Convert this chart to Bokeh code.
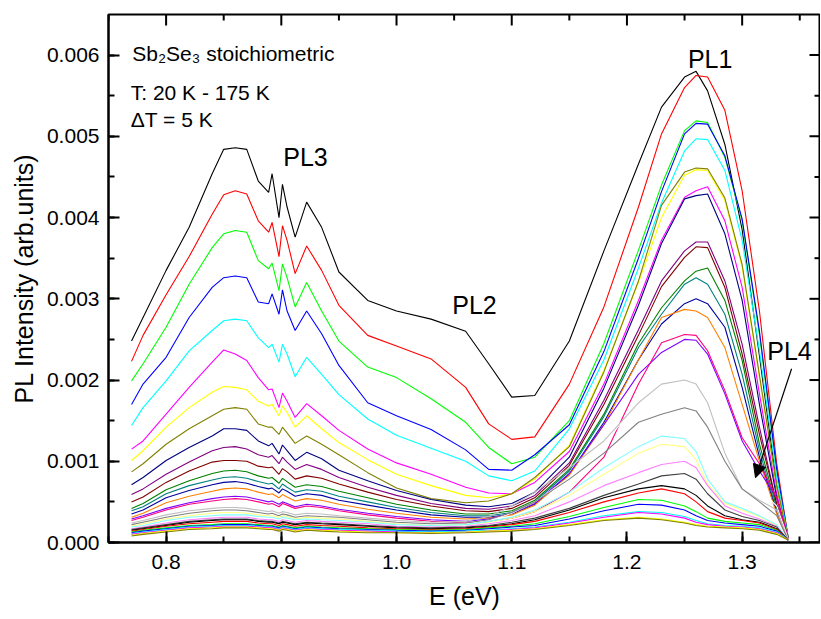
from bokeh.plotting import figure
from bokeh.models import (SingleIntervalTicker, PrintfTickFormatter,
                          Label, Arrow, NormalHead)
from bokeh.embed import file_html
from bokeh.resources import INLINE

# Photon energy grid (eV)
E = [0.770, 0.780, 0.800, 0.820, 0.840, 0.850, 0.860, 0.870, 0.880, 0.889,
     0.892, 0.898, 0.901, 0.905, 0.912, 0.922, 0.935, 0.950, 0.975, 1.000,
     1.030, 1.060, 1.080, 1.100, 1.120, 1.150, 1.180, 1.210, 1.230, 1.250,
     1.260, 1.270, 1.285, 1.300, 1.315, 1.330, 1.340]

# PL intensity (units of 1e-3 arb.units), one list per temperature
I_020K = [2.48, 2.77, 3.35, 3.88, 4.54, 4.84, 4.86, 4.84, 4.45, 4.31, 4.54, 4.00, 4.41, 4.13, 3.76, 4.19, 3.88, 3.33, 2.98, 2.85, 2.75, 2.60, 2.20, 1.79, 1.81, 2.48, 3.59, 4.66, 5.36, 5.73, 5.80, 5.56, 4.90, 3.85, 2.30, 0.70, 0.05]
I_025K = [2.23, 2.55, 3.05, 3.52, 4.04, 4.28, 4.33, 4.29, 3.96, 3.82, 3.94, 3.52, 3.90, 3.72, 3.31, 3.65, 3.35, 2.92, 2.55, 2.42, 2.26, 1.91, 1.46, 1.27, 1.30, 1.95, 2.90, 4.13, 5.03, 5.60, 5.75, 5.73, 5.32, 4.33, 2.85, 0.97, 0.05]
I_030K = [1.99, 2.20, 2.65, 3.18, 3.63, 3.80, 3.84, 3.82, 3.47, 3.37, 3.44, 3.10, 3.43, 3.26, 2.90, 3.20, 2.85, 2.48, 2.16, 2.03, 1.77, 1.48, 1.17, 0.97, 1.05, 1.50, 2.45, 3.60, 4.40, 5.07, 5.19, 5.17, 4.74, 3.96, 2.56, 0.88, 0.05]
I_035K = [1.70, 1.95, 2.28, 2.77, 3.14, 3.26, 3.28, 3.26, 2.96, 2.94, 3.06, 2.81, 3.11, 2.85, 2.61, 2.85, 2.57, 2.18, 1.72, 1.56, 1.39, 1.14, 0.90, 0.89, 1.08, 1.45, 2.35, 3.50, 4.32, 5.03, 5.16, 5.15, 4.76, 3.98, 2.60, 0.90, 0.05]
I_040K = [1.44, 1.66, 1.99, 2.36, 2.61, 2.73, 2.75, 2.73, 2.52, 2.40, 2.44, 2.22, 2.44, 2.32, 2.04, 2.28, 2.07, 1.82, 1.52, 1.32, 1.16, 1.00, 0.82, 0.76, 0.88, 1.40, 2.25, 3.38, 4.18, 4.82, 4.97, 4.96, 4.58, 3.72, 2.36, 0.80, 0.05]
I_045K = [1.15, 1.25, 1.58, 1.91, 2.22, 2.37, 2.32, 2.24, 2.03, 1.88, 1.89, 1.66, 1.84, 1.74, 1.54, 1.71, 1.56, 1.38, 1.15, 0.98, 0.84, 0.68, 0.61, 0.60, 0.74, 1.12, 1.95, 2.98, 3.72, 4.25, 4.33, 4.38, 3.96, 3.14, 1.83, 0.60, 0.05]
I_050K = [1.01, 1.13, 1.42, 1.66, 1.85, 1.92, 1.91, 1.88, 1.74, 1.68, 1.70, 1.56, 1.68, 1.60, 1.42, 1.56, 1.40, 1.23, 1.02, 0.84, 0.70, 0.58, 0.55, 0.60, 0.78, 1.20, 2.12, 3.20, 4.00, 4.52, 4.59, 4.58, 4.21, 3.39, 2.03, 0.68, 0.05]
I_055K = [0.87, 0.97, 1.21, 1.40, 1.56, 1.64, 1.66, 1.64, 1.46, 1.42, 1.42, 1.33, 1.42, 1.35, 1.22, 1.31, 1.21, 1.08, 0.86, 0.67, 0.54, 0.49, 0.51, 0.60, 0.80, 1.18, 2.10, 3.22, 4.15, 4.56, 4.61, 4.60, 4.24, 3.42, 2.06, 0.69, 0.05]
I_060K = [0.71, 0.80, 1.01, 1.17, 1.31, 1.40, 1.40, 1.38, 1.25, 1.19, 1.22, 1.09, 1.20, 1.13, 1.01, 1.11, 1.03, 0.89, 0.76, 0.64, 0.53, 0.46, 0.44, 0.48, 0.62, 1.05, 1.90, 2.92, 3.68, 4.23, 4.27, 4.29, 3.80, 2.98, 1.70, 0.55, 0.05]
I_065K = [0.59, 0.66, 0.84, 0.99, 1.13, 1.17, 1.18, 1.15, 1.08, 1.05, 1.07, 0.97, 1.05, 0.99, 0.90, 0.96, 0.90, 0.80, 0.68, 0.58, 0.48, 0.42, 0.41, 0.45, 0.58, 0.98, 1.75, 2.62, 3.22, 3.59, 3.70, 3.70, 3.22, 2.44, 1.42, 0.47, 0.04]
I_070K = [0.50, 0.56, 0.74, 0.88, 0.99, 1.01, 1.01, 1.00, 0.94, 0.92, 0.93, 0.84, 0.91, 0.87, 0.78, 0.82, 0.79, 0.72, 0.62, 0.53, 0.45, 0.39, 0.38, 0.42, 0.55, 0.95, 1.70, 2.55, 3.15, 3.51, 3.64, 3.63, 3.14, 2.32, 1.33, 0.47, 0.04]
I_075K = [0.42, 0.48, 0.65, 0.76, 0.85, 0.88, 0.89, 0.87, 0.82, 0.79, 0.80, 0.73, 0.79, 0.75, 0.68, 0.71, 0.69, 0.63, 0.55, 0.47, 0.40, 0.35, 0.35, 0.39, 0.52, 0.90, 1.58, 2.45, 2.89, 3.22, 3.34, 3.38, 2.98, 2.24, 1.21, 0.43, 0.04]
I_080K = [0.39, 0.44, 0.60, 0.70, 0.77, 0.80, 0.81, 0.79, 0.75, 0.72, 0.73, 0.66, 0.72, 0.68, 0.62, 0.65, 0.63, 0.57, 0.50, 0.43, 0.37, 0.33, 0.33, 0.37, 0.50, 0.88, 1.55, 2.40, 2.81, 3.18, 3.26, 3.18, 2.81, 2.07, 1.13, 0.39, 0.04]
I_085K = [0.35, 0.40, 0.55, 0.64, 0.71, 0.74, 0.75, 0.73, 0.69, 0.66, 0.67, 0.61, 0.66, 0.63, 0.57, 0.60, 0.58, 0.52, 0.46, 0.40, 0.34, 0.31, 0.31, 0.35, 0.47, 0.84, 1.48, 2.25, 2.69, 2.94, 3.00, 2.94, 2.65, 1.91, 1.05, 0.37, 0.04]
I_090K = [0.31, 0.36, 0.49, 0.57, 0.63, 0.66, 0.67, 0.66, 0.62, 0.59, 0.60, 0.55, 0.59, 0.56, 0.51, 0.54, 0.52, 0.47, 0.41, 0.36, 0.31, 0.29, 0.30, 0.34, 0.46, 0.83, 1.45, 2.25, 2.77, 2.87, 2.85, 2.77, 2.40, 1.70, 1.00, 0.35, 0.04]
I_095K = [0.29, 0.33, 0.42, 0.49, 0.54, 0.56, 0.57, 0.56, 0.53, 0.50, 0.51, 0.47, 0.50, 0.48, 0.44, 0.47, 0.45, 0.41, 0.36, 0.32, 0.28, 0.26, 0.29, 0.36, 0.48, 0.85, 1.45, 2.07, 2.34, 2.50, 2.49, 2.32, 1.83, 1.25, 0.88, 0.55, 0.04]
I_100K = [0.27, 0.31, 0.40, 0.47, 0.51, 0.53, 0.54, 0.53, 0.50, 0.47, 0.48, 0.44, 0.48, 0.46, 0.42, 0.45, 0.43, 0.39, 0.34, 0.30, 0.26, 0.24, 0.26, 0.30, 0.38, 0.62, 1.05, 1.95, 2.46, 2.56, 2.55, 2.36, 1.87, 1.29, 0.97, 0.55, 0.04]
I_105K = [0.25, 0.29, 0.37, 0.43, 0.47, 0.49, 0.50, 0.49, 0.46, 0.44, 0.45, 0.41, 0.44, 0.42, 0.39, 0.41, 0.39, 0.36, 0.32, 0.28, 0.25, 0.23, 0.27, 0.36, 0.50, 0.80, 1.20, 1.75, 2.10, 2.25, 2.20, 2.00, 1.45, 0.90, 0.65, 0.45, 0.04]
I_110K = [0.24, 0.27, 0.34, 0.39, 0.42, 0.43, 0.43, 0.42, 0.40, 0.38, 0.39, 0.36, 0.38, 0.37, 0.34, 0.36, 0.35, 0.33, 0.30, 0.27, 0.25, 0.26, 0.32, 0.45, 0.62, 0.92, 1.25, 1.72, 1.95, 2.00, 1.95, 1.72, 1.10, 0.66, 0.52, 0.40, 0.03]
I_115K = [0.22, 0.25, 0.31, 0.36, 0.39, 0.40, 0.40, 0.39, 0.37, 0.35, 0.36, 0.33, 0.35, 0.34, 0.31, 0.33, 0.32, 0.31, 0.28, 0.25, 0.23, 0.24, 0.28, 0.37, 0.50, 0.78, 1.10, 1.48, 1.58, 1.66, 1.62, 1.42, 1.00, 0.66, 0.50, 0.33, 0.03]
I_120K = [0.20, 0.23, 0.29, 0.33, 0.36, 0.37, 0.37, 0.36, 0.34, 0.33, 0.33, 0.31, 0.33, 0.32, 0.29, 0.31, 0.30, 0.29, 0.26, 0.23, 0.21, 0.22, 0.25, 0.30, 0.38, 0.58, 0.84, 1.10, 1.21, 1.18, 1.02, 0.72, 0.48, 0.40, 0.32, 0.21, 0.03]
I_125K = [0.19, 0.21, 0.27, 0.31, 0.33, 0.34, 0.34, 0.34, 0.32, 0.31, 0.31, 0.29, 0.31, 0.30, 0.28, 0.29, 0.28, 0.27, 0.25, 0.22, 0.21, 0.22, 0.26, 0.31, 0.40, 0.62, 0.92, 1.18, 1.31, 1.28, 1.12, 0.78, 0.50, 0.42, 0.33, 0.22, 0.03]
I_130K = [0.17, 0.19, 0.24, 0.28, 0.30, 0.31, 0.31, 0.31, 0.29, 0.28, 0.28, 0.26, 0.28, 0.27, 0.25, 0.27, 0.26, 0.25, 0.23, 0.20, 0.19, 0.20, 0.23, 0.27, 0.33, 0.50, 0.70, 0.86, 0.96, 1.00, 0.92, 0.70, 0.45, 0.36, 0.29, 0.20, 0.03]
I_135K = [0.16, 0.18, 0.22, 0.26, 0.28, 0.29, 0.29, 0.29, 0.27, 0.26, 0.26, 0.24, 0.26, 0.25, 0.23, 0.25, 0.24, 0.23, 0.21, 0.19, 0.18, 0.19, 0.21, 0.25, 0.30, 0.42, 0.58, 0.72, 0.82, 0.85, 0.78, 0.60, 0.40, 0.32, 0.27, 0.19, 0.03]
I_140K = [0.15, 0.17, 0.21, 0.25, 0.27, 0.28, 0.28, 0.28, 0.26, 0.25, 0.25, 0.23, 0.25, 0.24, 0.22, 0.24, 0.23, 0.22, 0.20, 0.18, 0.17, 0.18, 0.20, 0.23, 0.28, 0.40, 0.55, 0.66, 0.70, 0.66, 0.58, 0.45, 0.33, 0.28, 0.25, 0.17, 0.03]
I_145K = [0.14, 0.16, 0.20, 0.23, 0.25, 0.26, 0.26, 0.26, 0.24, 0.23, 0.23, 0.21, 0.23, 0.22, 0.20, 0.22, 0.21, 0.20, 0.18, 0.17, 0.16, 0.17, 0.19, 0.22, 0.26, 0.37, 0.50, 0.61, 0.66, 0.60, 0.50, 0.38, 0.30, 0.27, 0.24, 0.16, 0.03]
I_150K = [0.13, 0.15, 0.18, 0.21, 0.22, 0.23, 0.23, 0.23, 0.22, 0.21, 0.21, 0.19, 0.21, 0.20, 0.18, 0.20, 0.19, 0.18, 0.17, 0.16, 0.15, 0.16, 0.18, 0.20, 0.23, 0.32, 0.43, 0.53, 0.52, 0.45, 0.38, 0.30, 0.26, 0.24, 0.22, 0.15, 0.03]
I_155K = [0.12, 0.14, 0.17, 0.20, 0.21, 0.22, 0.22, 0.22, 0.21, 0.20, 0.20, 0.18, 0.20, 0.19, 0.17, 0.19, 0.18, 0.17, 0.16, 0.15, 0.14, 0.15, 0.17, 0.19, 0.21, 0.29, 0.39, 0.47, 0.46, 0.40, 0.33, 0.27, 0.24, 0.22, 0.20, 0.14, 0.03]
I_160K = [0.11, 0.13, 0.16, 0.19, 0.20, 0.21, 0.21, 0.21, 0.20, 0.19, 0.19, 0.17, 0.19, 0.18, 0.16, 0.18, 0.17, 0.16, 0.15, 0.14, 0.13, 0.14, 0.15, 0.17, 0.19, 0.25, 0.33, 0.38, 0.37, 0.32, 0.27, 0.23, 0.21, 0.20, 0.18, 0.13, 0.03]
I_165K = [0.10, 0.12, 0.15, 0.18, 0.19, 0.20, 0.20, 0.20, 0.19, 0.18, 0.18, 0.16, 0.18, 0.17, 0.15, 0.17, 0.16, 0.15, 0.14, 0.13, 0.12, 0.13, 0.14, 0.16, 0.18, 0.24, 0.31, 0.37, 0.35, 0.30, 0.25, 0.22, 0.20, 0.19, 0.17, 0.12, 0.03]
I_170K = [0.09, 0.11, 0.14, 0.17, 0.18, 0.19, 0.19, 0.19, 0.18, 0.17, 0.17, 0.15, 0.17, 0.16, 0.14, 0.16, 0.15, 0.14, 0.13, 0.12, 0.12, 0.13, 0.14, 0.15, 0.17, 0.22, 0.28, 0.31, 0.29, 0.25, 0.22, 0.20, 0.19, 0.18, 0.16, 0.11, 0.03]
I_175K = [0.08, 0.10, 0.13, 0.16, 0.17, 0.18, 0.18, 0.18, 0.17, 0.16, 0.16, 0.14, 0.16, 0.15, 0.13, 0.15, 0.14, 0.13, 0.12, 0.12, 0.11, 0.12, 0.13, 0.14, 0.16, 0.21, 0.27, 0.30, 0.28, 0.24, 0.21, 0.19, 0.18, 0.17, 0.15, 0.10, 0.03]

SERIES = [I_020K, I_025K, I_030K, I_035K, I_040K, I_045K, I_050K, I_055K,
          I_060K, I_065K, I_070K, I_075K, I_080K, I_085K, I_090K, I_095K,
          I_100K, I_105K, I_110K, I_115K, I_120K, I_125K, I_130K, I_135K,
          I_140K, I_145K, I_150K, I_155K, I_160K, I_165K, I_170K, I_175K]

# Origin default colour cycle
COLORS = ["#000000", "#FF0000", "#00FF00", "#0000FF", "#00FFFF", "#FF00FF",
          "#FFFF00", "#808000", "#000080", "#800080", "#800000", "#008000",
          "#008080", "#0000A0", "#FF8000", "#8000FF", "#FF0080", "#FFFFFF",
          "#C0C0C0", "#808080", "#FFFF80", "#80FFFF", "#FF80FF", "#404040",
          "#000000", "#FF0000", "#00FF00", "#0000FF", "#00FFFF", "#FF00FF",
          "#FFFF00", "#808000"]

X_MIN, X_MAX = 0.75, 1.368
Y_MIN, Y_MAX = 0.0, 0.0065
X_MAJOR = [0.8, 0.9, 1.0, 1.1, 1.2, 1.3]
X_MINOR = [0.75, 0.85, 0.95, 1.05, 1.15, 1.25, 1.35]
Y_MAJOR = [0.000, 0.001, 0.002, 0.003, 0.004, 0.005, 0.006]
Y_MINOR = [0.0005, 0.0015, 0.0025, 0.0035, 0.0045, 0.0055]
SCALE = 1e-3

FONT = "Liberation Sans"
FRAME_W, FRAME_H = 712, 528
MAJ_LEN, MIN_LEN = 11, 6

p = figure(frame_width=FRAME_W, frame_height=FRAME_H,
           x_range=(X_MIN, X_MAX), y_range=(Y_MIN, Y_MAX),
           output_backend="svg", toolbar_location=None,
           min_border_left=108, min_border_right=0,
           min_border_top=14, min_border_bottom=77,
           background_fill_color="white", border_fill_color="white")
p.xgrid.visible = False
p.ygrid.visible = False
p.outline_line_color = "black"
p.outline_line_width = 2
p.outline_line_alpha = 1.0

for ys, col in zip(SERIES, COLORS):
    n = min(len(E), len(ys))
    p.line(E[:n], [v * SCALE for v in ys[:n]], line_color=col, line_width=1.1)


def style_axis(ax):
    ax.axis_line_width = 2
    ax.axis_line_color = "black"
    ax.major_tick_in = MAJ_LEN
    ax.major_tick_out = 0
    ax.minor_tick_in = MIN_LEN
    ax.minor_tick_out = 0
    ax.major_tick_line_width = 2
    ax.minor_tick_line_width = 2
    ax.major_tick_line_color = "black"
    ax.minor_tick_line_color = "black"
    ax.major_label_text_font = FONT
    ax.major_label_text_font_size = "21px"
    ax.major_label_text_color = "black"
    ax.axis_label_text_font = FONT
    ax.axis_label_text_font_size = "25px"
    ax.axis_label_text_font_style = "normal"
    ax.axis_label_text_color = "black"


xa = p.xaxis[0]
xa.ticker = SingleIntervalTicker(interval=0.1, num_minor_ticks=2)
xa.formatter = PrintfTickFormatter(format="%.1f")
xa.axis_label = "E (eV)"
style_axis(xa)
xa.major_label_standoff = 12
xa.axis_label_standoff = 10

ya = p.yaxis[0]
ya.ticker = SingleIntervalTicker(interval=0.001, num_minor_ticks=2)
ya.formatter = PrintfTickFormatter(format="%.3f")
ya.axis_label = "PL Intensity (arb.units)"
style_axis(ya)
ya.major_label_standoff = 9
ya.axis_label_standoff = 6

# Inward ticks on the top and right edges of the frame
dx = (X_MAX - X_MIN) / FRAME_W
dy = (Y_MAX - Y_MIN) / FRAME_H
for xs, ln in ((X_MAJOR, MAJ_LEN), (X_MINOR, MIN_LEN)):
    p.segment(x0=xs, y0=[Y_MAX] * len(xs), x1=xs, y1=[Y_MAX - ln * dy] * len(xs),
              line_color="black", line_width=2)
for ys_, ln in ((Y_MAJOR, MAJ_LEN), (Y_MINOR, MIN_LEN)):
    p.segment(x0=[X_MAX] * len(ys_), y0=ys_, x1=[X_MAX - ln * dx] * len(ys_), y1=ys_,
              line_color="black", line_width=2)

# Text annotations
ANNOT = [
    ("Sb\u2082Se\u2083 stoichiometric", 0.7706, 0.006015, "21px"),
    ("T: 20 K - 175 K", 0.7693, 0.005534, "21px"),
    ("\u0394T = 5 K", 0.7693, 0.005202, "21px"),
    ("PL3", 0.9017, 0.00475, "25px"),
    ("PL1", 1.2529, 0.005953, "25px"),
    ("PL2", 1.0484, 0.002927, "25px"),
    ("PL4", 1.3218, 0.002352, "25px"),
]
for txt, ax_, ay_, fs in ANNOT:
    p.add_layout(Label(x=ax_, y=ay_, text=txt, text_font=FONT,
                       text_font_size=fs, text_color="black",
                       text_align="left", text_baseline="alphabetic"))

ARROW_START = (1.3429, 0.002139)
ARROW_END = (1.3116, 0.000797)
p.add_layout(Arrow(end=NormalHead(size=13, fill_color="black", line_color="black"),
                   x_start=ARROW_START[0], y_start=ARROW_START[1],
                   x_end=ARROW_END[0], y_end=ARROW_END[1],
                   line_color="black", line_width=1.2))

open("out.html", "w").write(file_html(p, INLINE))
